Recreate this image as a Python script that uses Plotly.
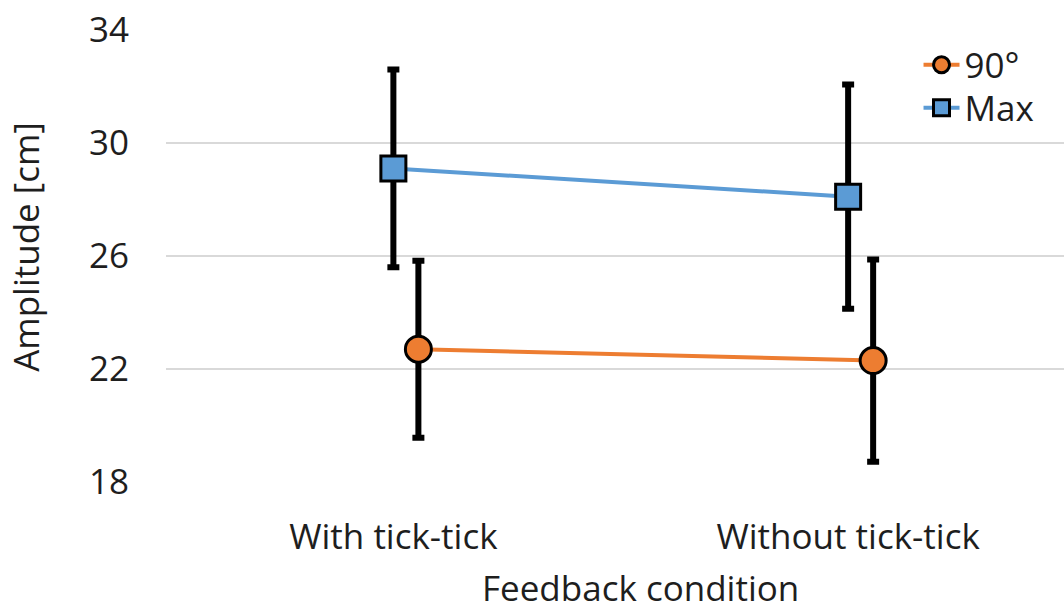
import plotly.graph_objects as go

# Feedback conditions and mean amplitudes (cm) with their error bars
conditions = ["With tick-tick", "Without tick-tick"]
amp_90 = [22.7, 22.3]
err_90 = [3.13, 3.58]
amp_max = [29.1, 28.1]
err_max = [3.5, 3.97]

FONT = "Open Sans"
TEXT = "#1E1E1E"
ORANGE = "#ED7D31"
BLUE = "#5B9BD5"
FS = 35

# category positions; the 90° series sits slightly to the right of Max
pos = list(range(len(conditions)))
shift = 0.055

fig = go.Figure()

fig.add_trace(go.Scatter(
    x=[p + shift for p in pos], y=amp_90, name="90°",
    mode="lines+markers", legend="legend",
    line=dict(color=ORANGE, width=4),
    marker=dict(symbol="circle", size=26, color=ORANGE,
                line=dict(color="black", width=3)),
    error_y=dict(type="data", array=err_90, visible=True,
                 color="black", thickness=6, width=6),
))

fig.add_trace(go.Scatter(
    x=pos, y=amp_max, name="Max",
    mode="lines+markers", legend="legend2",
    line=dict(color=BLUE, width=4),
    marker=dict(symbol="square", size=25, color=BLUE,
                line=dict(color="black", width=3)),
    error_y=dict(type="data", array=err_max, visible=True,
                 color="black", thickness=6, width=6),
))

legend_style = dict(x=0.838, xanchor="left", yanchor="middle",
                    bgcolor="rgba(0,0,0,0)", font=dict(size=FS),
                    itemsizing="trace", itemwidth=36)

fig.update_layout(
    width=1064, height=610,
    margin=dict(l=165.5, r=0, t=30, b=128),
    paper_bgcolor="white", plot_bgcolor="white",
    font=dict(family=FONT, size=FS, color=TEXT),
    showlegend=True,
    legend=dict(y=0.9226, **legend_style),
    legend2=dict(y=0.8274, **legend_style),
)

fig.update_xaxes(
    range=[-0.5, 1.4747],
    tickvals=pos, ticktext=conditions,
    showgrid=False, zeroline=False, showline=False,
    ticks="outside", ticklen=0, tickcolor="rgba(0,0,0,0)",
    ticklabelstandoff=24,
    tickfont=dict(size=FS, color=TEXT),
)

fig.update_yaxes(
    range=[18, 34], tickvals=[18, 22, 26, 30, 34],
    showgrid=True, gridcolor="#D9D9D9", gridwidth=1.5,
    zeroline=False, showline=False,
    ticks="outside", ticklen=0, tickcolor="rgba(0,0,0,0)",
    ticklabelstandoff=29,
    tickfont=dict(size=FS, color=TEXT),
)

# axis titles
fig.add_annotation(
    text="Feedback condition", xref="paper", yref="paper",
    x=0.528, y=-0.2345, xanchor="center", yanchor="middle",
    showarrow=False, font=dict(size=FS, color=TEXT),
)
fig.add_annotation(
    text="Amplitude [cm]", xref="paper", yref="paper",
    x=-0.156, y=0.52, xanchor="center", yanchor="middle",
    textangle=-90, showarrow=False, font=dict(size=FS, color=TEXT),
)

fig.write_html("out.html")
